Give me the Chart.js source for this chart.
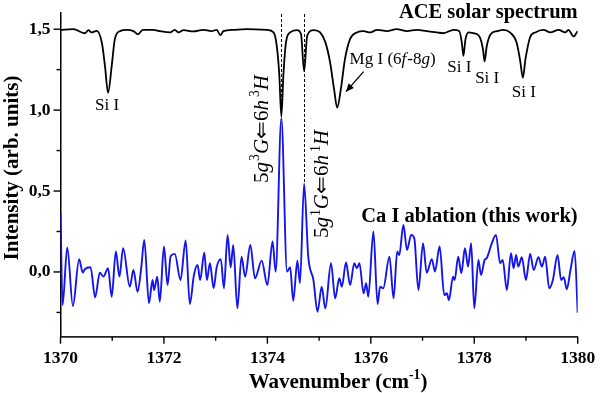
<!DOCTYPE html>
<html><head><meta charset="utf-8">
<script src="https://cdn.jsdelivr.net/npm/chart.js@4"></script>
<style>html,body{margin:0;padding:0;background:#fff}#c{display:block}</style>
</head><body>
<canvas id="c" width="600" height="393"></canvas>
<script>
// ---- data ----
const solarWn = [1370.00,1370.25,1370.47,1370.54,1370.60,1370.70,1370.80,1370.86,1370.92,1370.99,1371.05,1371.15,1371.28,1371.41,1371.50,1371.59,1371.80,1371.92,1372.12,1372.21,1372.28,1372.38,1372.57,1372.76,1372.92,1373.02,1373.09,1373.15,1373.34,1373.60,1373.99,1374.12,1374.18,1374.23,1374.27,1374.31,1374.36,1374.44,1374.57,1374.65,1374.71,1374.77,1374.90,1375.02,1375.12,1375.21,1375.29,1375.35,1375.42,1375.50,1375.60,1375.73,1375.86,1375.99,1376.12,1376.31,1376.50,1376.70,1376.89,1377.08,1377.28,1377.40,1377.60,1377.71,1377.76,1377.79,1377.83,1377.89,1377.98,1378.10,1378.17,1378.20,1378.24,1378.32,1378.44,1378.56,1378.69,1378.82,1378.89,1378.94,1378.99,1379.08,1379.18,1379.34,1379.47,1379.63,1379.76,1379.82,1379.92,1380.00];
const solarInt = [1.496,1.500,1.475,1.494,1.480,1.490,1.416,1.272,1.107,1.272,1.437,1.488,1.496,1.488,1.468,1.496,1.496,1.488,1.480,1.496,1.480,1.494,1.486,1.496,1.488,1.496,1.463,1.488,1.496,1.500,1.496,1.480,1.400,1.220,0.960,1.220,1.418,1.480,1.494,1.470,1.240,1.460,1.494,1.480,1.420,1.300,1.128,1.015,1.128,1.315,1.440,1.480,1.488,1.480,1.496,1.488,1.500,1.488,1.496,1.488,1.480,1.475,1.496,1.488,1.416,1.335,1.437,1.480,1.475,1.455,1.373,1.300,1.393,1.470,1.488,1.496,1.480,1.416,1.300,1.200,1.315,1.450,1.480,1.496,1.480,1.496,1.480,1.496,1.455,1.488];

const ablWn = [1370.00,1370.04,1370.13,1370.24,1370.36,1370.43,1370.47,1370.58,1370.67,1370.76,1370.83,1370.92,1370.99,1371.07,1371.14,1371.21,1371.34,1371.41,1371.49,1371.56,1371.62,1371.71,1371.78,1371.81,1371.87,1371.92,1372.00,1372.07,1372.13,1372.21,1372.32,1372.42,1372.50,1372.58,1372.65,1372.70,1372.78,1372.83,1372.89,1372.96,1373.02,1373.10,1373.16,1373.23,1373.29,1373.34,1373.42,1373.50,1373.57,1373.67,1373.76,1373.89,1374.00,1374.10,1374.16,1374.27,1374.38,1374.44,1374.50,1374.58,1374.63,1374.71,1374.79,1374.89,1374.97,1375.05,1375.12,1375.23,1375.31,1375.39,1375.44,1375.52,1375.60,1375.68,1375.73,1375.78,1375.86,1375.91,1375.95,1376.05,1376.13,1376.18,1376.24,1376.36,1376.44,1376.51,1376.55,1376.63,1376.70,1376.78,1376.84,1376.92,1377.01,1377.08,1377.18,1377.24,1377.33,1377.42,1377.47,1377.51,1377.59,1377.62,1377.69,1377.75,1377.82,1377.88,1377.94,1378.00,1378.08,1378.13,1378.20,1378.24,1378.34,1378.42,1378.50,1378.55,1378.63,1378.71,1378.76,1378.81,1378.85,1378.92,1379.00,1379.08,1379.15,1379.24,1379.31,1379.37,1379.45,1379.52,1379.61,1379.68,1379.73,1379.79,1379.86,1379.94,1380.00];
const ablInt = [0.366,-0.205,0.151,-0.210,0.079,-0.004,0.017,0.029,-0.157,-0.004,-0.029,0.023,-0.153,0.126,-0.029,0.147,-0.091,0.012,-0.122,0.023,0.198,-0.194,-0.050,-0.112,-0.029,-0.184,0.157,-0.081,0.099,0.112,-0.050,0.194,-0.198,-0.019,0.043,-0.050,0.120,-0.050,0.054,-0.101,0.029,0.079,-0.101,0.229,0.029,0.167,-0.225,0.095,-0.029,0.167,-0.039,0.070,-0.081,0.188,0.002,0.950,0.002,0.029,-0.178,0.070,-0.070,0.545,0.095,-0.050,-0.246,-0.091,-0.225,0.054,-0.163,-0.039,-0.091,0.058,-0.081,0.054,0.023,0.054,-0.132,-0.070,-0.153,0.250,-0.198,-0.091,-0.101,0.095,-0.163,0.126,0.105,0.291,0.136,0.229,0.209,-0.112,0.178,-0.004,0.079,0.002,0.157,-0.143,-0.132,-0.174,-0.029,-0.050,0.095,-0.008,0.147,0.033,0.178,-0.225,0.074,-0.019,0.074,0.085,0.178,0.229,0.054,0.074,-0.112,0.116,0.023,0.105,0.033,0.091,-0.050,0.112,0.012,0.091,0.033,0.095,-0.101,-0.050,0.105,-0.050,-0.033,-0.107,0.012,0.130,-0.252];

const xTickValues = [1370,1371,1372,1373,1374,1375,1376,1377,1378,1379,1380];
const yTickValues = [-0.25,0,0.25,0.5,0.75,1.0,1.25,1.5];
const markerWn = [1374.27, 1374.71];
const markerPeak = [0.95, 0.545];

const SERIF = '"Liberation Serif","Times New Roman",serif';

function seg(ctx, parts, size) {
  let x = 0;
  parts.forEach(p => {
    const s = p.sup ? size * 0.65 : size;
    ctx.font = (p.i ? 'italic ' : '') + (p.b ? 'bold ' : '') + s + 'px ' + SERIF;
    ctx.fillText(p.t, x, p.sup ? -size * 0.42 : 0);
    x += ctx.measureText(p.t).width + (p.gap || 0);
  });
  return x;
}
function segWidth(ctx, parts, size) {
  let x = 0;
  parts.forEach(p => {
    const s = p.sup ? size * 0.65 : size;
    ctx.font = (p.i ? 'italic ' : '') + (p.b ? 'bold ' : '') + s + 'px ' + SERIF;
    x += ctx.measureText(p.t).width + (p.gap || 0);
  });
  return x;
}

const decor = {
  id: 'decor',
  afterDraw(chart) {
    const ctx = chart.ctx, xs = chart.scales.x, ys = chart.scales.y;
    const P = (w, v) => ({x: xs.getPixelForValue(w), y: ys.getPixelForValue(v)});
    ctx.save();
    ctx.fillStyle = '#000'; ctx.strokeStyle = '#000';
    // tick marks (major / minor)
    ctx.lineWidth = 1.4;
    xTickValues.forEach(v => {
      const px = xs.getPixelForValue(v), len = (v % 2 === 0) ? 7 : 4;
      ctx.beginPath(); ctx.moveTo(px, xs.top); ctx.lineTo(px, xs.top + len); ctx.stroke();
    });
    yTickValues.forEach(v => {
      const py = ys.getPixelForValue(v), major = Math.abs(v * 2 - Math.round(v * 2)) < 1e-6, len = major ? 7 : 4;
      ctx.beginPath(); ctx.moveTo(ys.right, py); ctx.lineTo(ys.right - len, py); ctx.stroke();
    });
    // dotted marker lines
    ctx.lineWidth = 1; ctx.setLineDash([3, 2]);
    markerWn.forEach((w, i) => {
      const a = P(w, ys.max), b = P(w, markerPeak[i]);
      ctx.beginPath(); ctx.moveTo(Math.round(a.x) + 0.5, a.y + 1); ctx.lineTo(Math.round(a.x) + 0.5, b.y); ctx.stroke();
    });
    ctx.setLineDash([]);
    // series labels
    ctx.textBaseline = 'alphabetic';
    ctx.font = 'bold 20.5px ' + SERIF; ctx.textAlign = 'right';
    let p = P(1380, 1.569); ctx.fillText('ACE solar spectrum', p.x, p.y);
    p = P(1380, 0.311); ctx.fillText('Ca I ablation (this work)', p.x, p.y);
    // Si I labels
    ctx.font = '17px ' + SERIF; ctx.textAlign = 'center';
    [[1370.90, 1.003], [1377.71, 1.235], [1378.25, 1.17], [1378.96, 1.083]].forEach(q => {
      const r = P(q[0], q[1]); ctx.fillText('Si I', r.x, r.y);
    });
    // Mg label
    ctx.textAlign = 'left';
    p = P(1375.59, 1.283);
    ctx.save(); ctx.translate(p.x, p.y);
    seg(ctx, [{t:'Mg I ('}, {t:'6'}, {t:'f', i:true, gap:1}, {t:'-8'}, {t:'g', i:true}, {t:')'}], 17);
    ctx.restore();
    // arrow
    const a0 = P(1375.86, 1.238), a1 = P(1375.52, 1.114);
    ctx.lineWidth = 1.3;
    ctx.beginPath(); ctx.moveTo(a0.x, a0.y); ctx.lineTo(a1.x, a1.y); ctx.stroke();
    const ang = Math.atan2(a1.y - a0.y, a1.x - a0.x), hl = 8, hw = 3.5;
    ctx.beginPath();
    ctx.moveTo(a1.x, a1.y);
    ctx.lineTo(a1.x - hl * Math.cos(ang) + hw * Math.sin(ang), a1.y - hl * Math.sin(ang) - hw * Math.cos(ang));
    ctx.lineTo(a1.x - hl * Math.cos(ang) - hw * Math.sin(ang), a1.y - hl * Math.sin(ang) + hw * Math.cos(ang));
    ctx.closePath(); ctx.fill();
    // rotated transition labels
    [[1374.01, 0.55, '3'], [1375.18, 0.21, '1']].forEach(q => {
      const r = P(q[0], q[1]);
      ctx.save(); ctx.translate(r.x, r.y); ctx.rotate(-Math.PI / 2);
      seg(ctx, [{t:'5'}, {t:'g', i:true, gap:1}, {t:q[2], sup:true}, {t:'G', i:true}, {t:'\u21D0'}, {t:'6'}, {t:'h', i:true, gap:3}, {t:q[2], sup:true}, {t:'H', i:true}], 21);
      ctx.restore();
    });
    // axis titles
    ctx.save(); ctx.translate(18, 168); ctx.rotate(-Math.PI / 2);
    ctx.font = 'bold 21px ' + SERIF; ctx.textAlign = 'center';
    ctx.fillText('Intensity (arb. units)', 0, 0);
    ctx.restore();
    const xt = [{t:'Wavenumber (cm', b:true}, {t:'-1', b:true, sup:true}, {t:')', b:true}];
    const w = segWidth(ctx, xt, 21);
    ctx.save(); ctx.translate(338 - w / 2, 388); ctx.textAlign = 'left';
    seg(ctx, xt, 21);
    ctx.restore();
    ctx.restore();
  }
};

new Chart(document.getElementById('c'), {
  type: 'line',
  data: {
    datasets: [
      {label: 'Ca I ablation (this work)', data: ablWn.map((x, i) => ({x, y: ablInt[i]})),
       borderColor: '#1414ee', borderWidth: 1.9, pointRadius: 0, cubicInterpolationMode: 'monotone', order: 2},
      {label: 'ACE solar spectrum', data: solarWn.map((x, i) => ({x, y: solarInt[i]})),
       borderColor: '#000', borderWidth: 1.8, pointRadius: 0, cubicInterpolationMode: 'monotone', order: 1}
    ]
  },
  options: {
    responsive: false, animation: false, devicePixelRatio: 1,
    layout: {padding: {left: 0, top: 13, right: 22.3, bottom: 0}},
    plugins: {legend: {display: false}, tooltip: {enabled: false}},
    scales: {
      x: {
        type: 'linear', min: 1370, max: 1380,
        afterBuildTicks: s => { s.ticks = xTickValues.map(v => ({value: v})); },
        afterFit: s => { s.height = 56.3; s.paddingLeft = 0; s.paddingRight = 0; },
        grid: {display: false, drawTicks: false},
        border: {display: true, color: '#222', width: 1.8},
        ticks: {padding: 11, color: '#000', maxRotation: 0, autoSkip: false,
                font: {family: SERIF, size: 17.5, weight: 'bold'},
                callback: v => (v % 2 === 0 ? String(v) : '')}
      },
      y: {
        min: -0.4, max: 1.6,
        afterBuildTicks: s => { s.ticks = yTickValues.map(v => ({value: v})); },
        afterFit: s => { s.width = 60.5; s.paddingTop = 0; s.paddingBottom = 0; },
        grid: {display: false, drawTicks: false},
        border: {display: true, color: '#000', width: 1.5},
        ticks: {padding: 10, color: '#000',
                font: {family: SERIF, size: 17.5, weight: 'bold'},
                callback: v => (Math.abs(v * 2 - Math.round(v * 2)) < 1e-6 ? v.toFixed(1).replace('.', ',') : '')}
      }
    }
  },
  plugins: [decor]
});
</script>
</body></html>
